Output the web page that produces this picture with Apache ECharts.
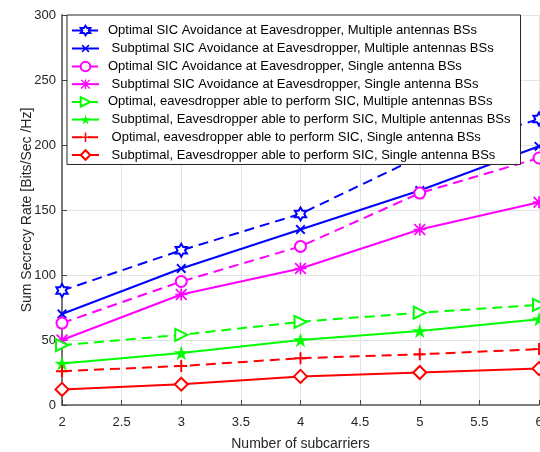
<!DOCTYPE html>
<html>
<head>
<meta charset="utf-8">
<script src="https://cdn.jsdelivr.net/npm/echarts@6/dist/echarts.min.js"></script>
<style>
  html, body { margin: 0; padding: 0; background: #fff; }
  #chart { width: 540px; height: 452px; }
</style>
</head>
<body>
<div id="chart"></div>
<script>
  // subcarriers on the x axis
  const subcarriers = [2, 3, 4, 5, 6];

  const optMultiSic = [88, 119, 147, 191, 220];
  const subMultiSic = [70, 105, 135, 165, 199];
  const optSingleSic = [63, 95, 122, 163, 190];
  const subSingleSic = [50, 85, 105, 135, 156];
  const optMultiEve = [46, 54, 64, 71, 77];
  const subMultiEve = [32, 40, 50, 57, 66];
  const optSingleEve = [26, 30, 36, 39, 43];
  const subSingleEve = [12, 16, 22, 25, 28];

  const names = [
    'Optimal SIC Avoidance at Eavesdropper, Multiple antennas BSs',
    ' Subptimal SIC Avoidance at Eavesdropper, Multiple antennas BSs',
    'Optimal SIC Avoidance at Eavesdropper, Single antenna BSs',
    ' Subptimal SIC Avoidance at Eavesdropper, Single antenna BSs',
    'Optimal, eavesdropper able to perform SIC, Multiple antennas BSs',
    ' Subptimal, Eavesdropper able to perform SIC, Multiple antennas BSs',
    ' Optimal, eavesdropper able to perform SIC, Single antenna BSs',
    ' Subptimal, Eavesdropper able to perform SIC, Single antenna BSs'
  ];

  // marker shapes (matlab style)
  const hexagram = 'path://M100 0L128.9 50L186.6 50L157.7 100L186.6 150L128.9 150L100 200L71.1 150L13.4 150L42.3 100L13.4 50L71.1 50Z';
  const pentagram = 'path://M100 0L122.5 69.1L195.1 69.1L136.3 111.8L158.8 180.9L100 138.2L41.2 180.9L63.7 111.8L4.9 69.1L77.5 69.1Z';
  const triRight = 'path://M0 0L100 50L0 100Z';
  const plus = 'path://M42 0H58V42H100V58H58V100H42V58H0V42H42Z';
  const asterisk = 'path://M0 43H100V57H0Z M43 0H57V100H43Z M0 10L10 0L100 90L90 100Z M90 0L100 10L10 100L0 90Z';

  function mk(name, data, color, dashed, symbol, size, hollow, rotate) {
    return {
      name: name,
      type: 'line',
      data: subcarriers.map((x, i) => [x, data[i]]),
      symbol: symbol,
      symbolSize: size,
      symbolRotate: rotate || 0,
      symbolKeepAspect: true,
      showAllSymbol: true,
      lineStyle: { color: color, width: 2, type: dashed ? [10, 6] : 'solid' },
      itemStyle: hollow
        ? { color: '#fff', borderColor: color, borderWidth: 2 }
        : { color: color, borderColor: color, borderWidth: 0 },
      emphasis: { disabled: true },
      z: 3
    };
  }

  const blue = '#0000ff', magenta = '#ff00ff', green = '#00ff00', red = '#ff0000';

  let myChart = echarts.init(document.getElementById('chart'));
  let option = {
    animation: false,
    backgroundColor: '#fff',
    textStyle: { fontFamily: 'Liberation Sans, Arial, sans-serif' },
    grid: { left: 62, right: 1, top: 15, bottom: 47, containLabel: false, outerBoundsMode: 'none' },
    legend: {
      orient: 'vertical',
      left: 67,
      top: 15,
      padding: [9, 10, 3, 4],
      itemWidth: 27,
      itemHeight: 12,
      itemGap: 4.7,
      backgroundColor: '#fff',
      borderColor: '#262626',
      borderWidth: 1,
      textStyle: { fontSize: 13, color: '#000', padding: [0, 0, 0, 4] },
      data: names
    },
    xAxis: {
      type: 'value',
      min: 2,
      max: 6,
      interval: 0.5,
      name: 'Number of subcarriers',
      nameLocation: 'middle',
      nameGap: 32,
      nameMoveOverlap: false,
      nameTextStyle: { fontSize: 14, color: '#262626' },
      axisLabel: { fontSize: 13, color: '#262626', margin: 11 },
      axisLine: { lineStyle: { color: '#555', width: 1.5 } },
      axisTick: { inside: true, length: 5, lineStyle: { color: '#444' } },
      splitLine: { show: true, lineStyle: { color: '#e3e3e3' } }
    },
    yAxis: {
      type: 'value',
      min: 0,
      max: 300,
      interval: 50,
      name: 'Sum Secrecy Rate [Bits/Sec /Hz]',
      nameLocation: 'middle',
      nameGap: 28,
      nameMoveOverlap: false,
      nameTextStyle: { fontSize: 14, color: '#262626' },
      axisLabel: { fontSize: 13, color: '#262626', margin: 6 },
      axisLine: { show: true, lineStyle: { color: '#777', width: 2 } },
      axisTick: { show: true, inside: true, length: 5, lineStyle: { color: '#444' } },
      splitLine: { show: true, lineStyle: { color: '#e3e3e3' } }
    },
    series: [
      mk(names[0], optMultiSic, blue, true, hexagram, 13, true),
      mk(names[1], subMultiSic, blue, false, plus, 12, false, 45),
      mk(names[2], optSingleSic, magenta, true, 'circle', 11, true),
      mk(names[3], subSingleSic, magenta, false, asterisk, 12, false),
      mk(names[4], optMultiEve, green, true, triRight, 12, true),
      mk(names[5], subMultiEve, green, false, pentagram, 15, false),
      mk(names[6], optSingleEve, red, true, plus, 12, false),
      mk(names[7], subSingleEve, red, false, 'diamond', 13, true)
    ]
  };
  myChart.setOption(option);
  window.addEventListener('resize', () => { myChart.resize(); });
</script>
</body>
</html>
